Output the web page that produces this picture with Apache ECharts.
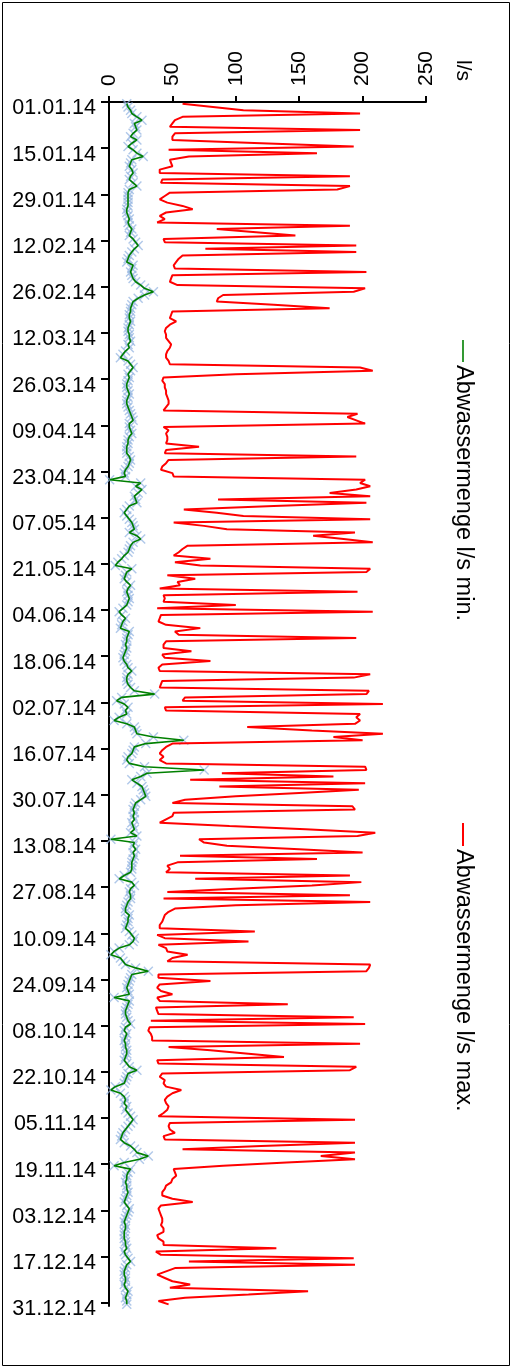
<!DOCTYPE html>
<html>
<head>
<meta charset="utf-8">
<script src="https://cdn.jsdelivr.net/npm/echarts@6/dist/echarts.min.js"></script>
<style>
  html, body { margin: 0; padding: 0; background: #fff; }
  #chart { width: 513px; height: 1369px; }
</style>
</head>
<body>
<div id="chart"></div>
<script>
// Date tick labels, one every 14 days
const tickLabels = ['01.01.14','15.01.14','29.01.14','12.02.14','26.02.14','12.03.14','26.03.14',
  '09.04.14','23.04.14','07.05.14','21.05.14','04.06.14','18.06.14','02.07.14','16.07.14',
  '30.07.14','13.08.14','27.08.14','10.09.14','24.09.14','08.10.14','22.10.14','05.11.14',
  '19.11.14','03.12.14','17.12.14','31.12.14'];

// Daily maximum flow, l/s
const maxJan = [58, 82, 106, 198, 58, 52, 50, 48, 198, 52, 50, 50, 120, 193, 47, 164, 63, 48, 49, 50, 40, 40, 190, 42, 41, 190, 180, 48, 44, 40, 46];
const maxFeb = [58, 66, 45, 40, 44, 38, 190, 85, 116, 147, 43, 44, 195, 76, 195, 58, 55, 53, 51, 52, 203, 50, 49, 48, 54, 202, 193, 90];
const maxMar = [86, 85, 130, 174, 50, 49, 48, 53, 48, 45, 44, 45, 45, 47, 49, 48, 46, 45, 45, 47, 48, 198, 208, 100, 43, 42, 44, 44, 45, 45, 46];
const maxApr = [47, 47, 45, 43, 196, 188, 195, 202, 43, 47, 45, 46, 46, 45, 71, 45, 44, 195, 47, 45, 42, 41, 50, 51, 202, 198, 206, 195, 174, 206];
const maxMay = [86, 203, 130, 59, 85, 106, 206, 51, 75, 93, 194, 161, 185, 208, 62, 58, 55, 51, 80, 52, 72, 206, 203, 46, 68, 54, 56, 40, 196, 43, 44];
const maxJun = [43, 100, 38, 208, 41, 40, 39, 45, 72, 52, 55, 195, 45, 43, 43, 65, 42, 44, 80, 42, 39, 40, 206, 193, 42, 41, 40, 205, 203, 60];
const maxJul = [58, 216, 44, 45, 198, 195, 198, 194, 109, 160, 216, 177, 200, 50, 45, 42, 40, 43, 40, 45, 202, 203, 89, 177, 64, 202, 87, 197, 150, 100, 60];
const maxAug = [50, 192, 194, 51, 50, 45, 40, 95, 155, 210, 196, 71, 75, 93, 150, 200, 56, 164, 54, 46, 48, 45, 190, 68, 199, 160, 100, 46, 190, 43, 206];
const maxSep = [100, 52, 47, 44, 43, 42, 40, 40, 115, 38, 44, 110, 39, 45, 46, 62, 50, 46, 206, 205, 203, 39, 39, 80, 40, 38, 41, 50, 38, 40];
const maxOct = [141, 37, 38, 39, 193, 33, 202, 32, 31, 33, 34, 34, 198, 47, 80, 110, 138, 38, 39, 195, 190, 42, 40, 44, 43, 45, 57, 50, 46, 44, 45];
const maxNov = [47, 46, 43, 39, 194, 48, 47, 48, 52, 43, 44, 194, 120, 58, 194, 167, 194, 140, 90, 51, 52, 53, 50, 49, 45, 44, 42, 42, 50, 66];
const maxDec = [41, 39, 40, 41, 42, 42, 41, 43, 43, 38, 39, 43, 43, 132, 37, 41, 193, 63, 194, 52, 45, 38, 44, 50, 64, 48, 157, 110, 60, 39, 47];

// Daily minimum flow, l/s
const minJan = [14, 15, 17, 18, 22, 26, 20, 21, 22, 19, 17, 22, 18, 15, 19, 22, 27, 18, 17, 16, 18, 19, 17, 16, 19, 22, 16, 15, 15, 15, 15];
const minFeb = [15, 14, 14, 15, 16, 15, 16, 18, 17, 16, 19, 21, 23, 20, 18, 16, 15, 14, 19, 18, 17, 18, 19, 21, 25, 28, 35, 28];
const minMar = [23, 19, 18, 17, 17, 16, 16, 17, 16, 15, 15, 16, 16, 17, 15, 16, 13, 11, 9, 15, 17, 19, 17, 15, 16, 15, 14, 14, 15, 16, 15];
const minApr = [14, 14, 15, 16, 17, 18, 19, 16, 16, 17, 18, 16, 15, 15, 14, 14, 14, 16, 17, 16, 15, 13, 12, 13, 0.5, 25, 21, 26, 23, 20];
const minMay = [21, 22, 16, 14, 12, 14, 16, 18, 19, 20, 16, 22, 25, 19, 17, 16, 15, 12, 10, 7, 5, 18, 14, 13, 12, 14, 17, 15, 14, 15, 16];
const minJun = [15, 14, 11, 8, 10, 13, 11, 10, 9, 16, 15, 14, 14, 13, 14, 13, 12, 11, 12, 14, 15, 18, 15, 14, 14, 15, 17, 20, 36, 10];
const minJul = [6, 12, 15, 13, 14, 8, 4, 14, 20, 21, 22, 35, 59, 29, 20, 19, 18, 15, 14, 16, 28, 75, 30, 25, 18, 22, 26, 27, 28, 29, 25];
const minAug = [21, 20, 19, 20, 19, 20, 18, 19, 20, 17, 22, 1.5, 20, 19, 21, 19, 20, 19, 18, 18, 18, 17, 12, 8, 18, 20, 17, 16, 17, 17, 15];
const minSep = [14, 13, 13, 16, 15, 15, 14, 13, 16, 18, 20, 19, 16, 8, 4, 1.5, 9, 11, 13, 21, 31, 18, 17, 16, 15, 14, 15, 16, 4, 16];
const minOct = [15, 14, 13, 13, 14, 15, 17, 13, 12, 14, 13, 12, 13, 13, 14, 14, 13, 12, 14, 16, 22, 15, 14, 13, 12, 5, 1.5, 9, 12, 13, 12];
const minNov = [14, 13, 15, 17, 19, 17, 15, 13, 11, 10, 9, 12, 17, 20, 22, 31, 24, 12, 4, 17, 15, 14, 14, 13, 14, 14, 15, 14, 13, 12];
const minDec = [14, 16, 15, 14, 13, 12, 13, 13, 12, 12, 12, 13, 13, 14, 12, 13, 15, 17, 14, 13, 12, 12, 13, 13, 12, 13, 15, 14, 13, 14, 14];

const maxValues = [].concat(maxJan, maxFeb, maxMar, maxApr, maxMay, maxJun, maxJul, maxAug, maxSep, maxOct, maxNov, maxDec);
const minValues = [].concat(minJan, minFeb, minMar, minApr, minMay, minJun, minJul, minAug, minSep, minOct, minNov, minDec);

const DAYS = 365;
if (maxValues.length !== DAYS || minValues.length !== DAYS) {
  throw new Error('series length ' + maxValues.length + ' / ' + minValues.length);
}

const FONT = '"Liberation Sans", Arial, Helvetica, sans-serif';
const TICK_STEP = 14;
const tickDays = tickLabels.map((_, i) => i * TICK_STEP);

// each daily value sits in the middle of its day on the time axis
const toPoints = arr => arr.map((v, i) => [v, i + 0.5]);
const maxPts = toPoints(maxValues);
const minPts = toPoints(minValues);

// small "x" marker
const CROSS = 'path://M0,1L1,0L5,4L9,0L10,1L6,5L10,9L9,10L5,6L1,10L0,9L4,5Z';

const chart = echarts.init(document.getElementById('chart'), null, { renderer: 'canvas' });

const legendText = (text, x, y) => ({
  type: 'text', x: x, y: y, rotation: -Math.PI / 2, silent: true,
  style: {
    text: text, fill: '#000', fontSize: 23.5, fontFamily: FONT,
    align: 'left', verticalAlign: 'middle', textAlign: 'left', textVerticalAlign: 'middle'
  }
});

chart.setOption({
  animation: false,
  backgroundColor: '#fff',
  grid: { left: 109, top: 102, width: 317, height: 1204, containLabel: false },
  xAxis: {
    type: 'value', position: 'top', min: 0, max: 250, interval: 50,
    axisLine: { show: true, onZero: false, lineStyle: { color: '#000', width: 2 } },
    axisTick: { show: true, inside: false, length: 6, lineStyle: { color: '#000', width: 2 } },
    axisLabel: { rotate: -90, margin: 16, fontSize: 21, color: '#000', fontFamily: FONT },
    splitLine: { show: false }
  },
  yAxis: {
    type: 'value', min: 0, max: DAYS, inverse: true,
    axisLine: { show: true, onZero: false, lineStyle: { color: '#000', width: 2 } },
    axisTick: { show: true, length: 8, customValues: tickDays, lineStyle: { color: '#000', width: 2 } },
    axisLabel: {
      customValues: tickDays, margin: 13, fontSize: 21.5, color: '#000', fontFamily: FONT,
      verticalAlign: 'top', lineHeight: 13,
      formatter: v => tickLabels[Math.round(v / TICK_STEP)]
    },
    splitLine: { show: false }
  },
  series: [
    {
      name: 'marker', type: 'line', data: minPts, z: 1, silent: true,
      showSymbol: true, showAllSymbol: true, symbol: CROSS, symbolSize: 10,
      itemStyle: { color: 'rgba(150,182,226,0.75)' },
      lineStyle: { width: 0, opacity: 0 }
    },
    {
      name: 'Abwassermenge l/s min.', type: 'line', data: minPts, z: 2,
      showSymbol: false, lineStyle: { color: '#008000', width: 1.6 }
    },
    {
      name: 'Abwassermenge l/s max.', type: 'line', data: maxPts, z: 3,
      showSymbol: false, lineStyle: { color: '#ff0000', width: 2 }
    }
  ],
  graphic: [
    { type: 'rect', silent: true, shape: { x: 2.5, y: 2.5, width: 507, height: 1363 },
      style: { fill: 'none', stroke: '#000', lineWidth: 1 } },
    { type: 'text', x: 463, y: 60, rotation: -Math.PI / 2, silent: true,
      style: { text: 'l/s', fill: '#000', fontSize: 21, fontFamily: FONT,
        align: 'left', verticalAlign: 'middle', textAlign: 'left', textVerticalAlign: 'middle' } },
    { type: 'line', silent: true, shape: { x1: 463, y1: 340, x2: 463, y2: 362 },
      style: { stroke: '#008000', lineWidth: 1.6 } },
    legendText('Abwassermenge l/s min.', 463, 365),
    { type: 'line', silent: true, shape: { x1: 463, y1: 823, x2: 463, y2: 846 },
      style: { stroke: '#ff0000', lineWidth: 2 } },
    legendText('Abwassermenge l/s max.', 463, 849)
  ]
});
</script>
</body>
</html>
